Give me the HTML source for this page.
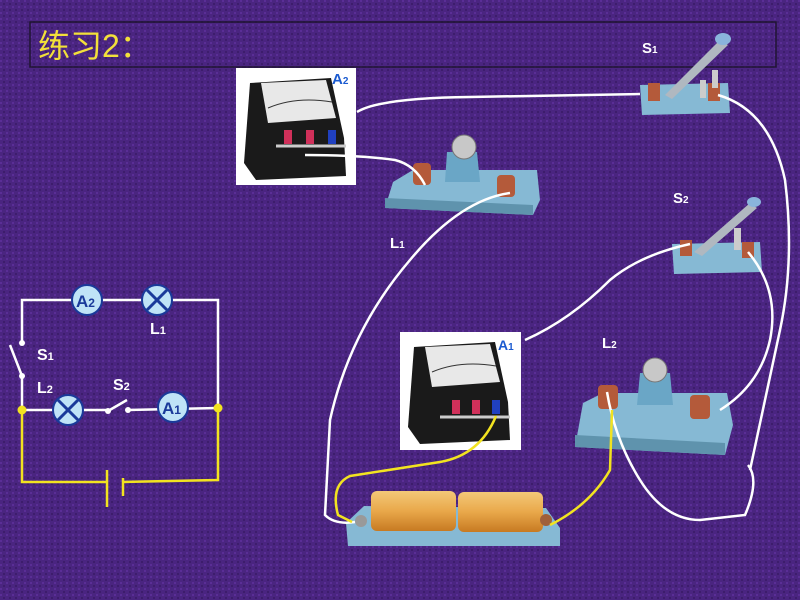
<!DOCTYPE html>
<html><head><meta charset="utf-8"><style>
html,body{margin:0;padding:0;width:800px;height:600px;overflow:hidden;background:#4b2683;}
svg{display:block}
text{font-family:"Liberation Sans",Arial,sans-serif;font-weight:bold}
text.t{font-weight:normal;font-family:"Liberation Sans","Noto Sans CJK SC",sans-serif}
</style></head><body>
<svg width="800" height="600" viewBox="0 0 800 600" xmlns="http://www.w3.org/2000/svg">
<defs>
<pattern id="tex" width="6" height="6" patternUnits="userSpaceOnUse">
<rect width="6" height="6" fill="#4a2580"/>
<rect x="0" y="0" width="2" height="2" fill="#5a2e96"/>
<rect x="3" y="3" width="2" height="2" fill="#3d1d6c"/>
</pattern>
<linearGradient id="bat" x1="0" y1="0" x2="0" y2="1">
<stop offset="0" stop-color="#f3c878"/><stop offset="0.5" stop-color="#e9a84a"/><stop offset="1" stop-color="#c77a22"/>
</linearGradient>
</defs>
<rect width="800" height="600" fill="url(#tex)"/>
<rect x="30" y="22" width="746" height="45" fill="none" stroke="#1e1430" stroke-width="1.5"/>
<text class="t" x="38" y="57" font-size="32" fill="#f2e03a">练习2：</text>

<g stroke="#fff" stroke-width="2.5" fill="none">
<polyline points="22,343 22,300 218,300 218,408"/>
<line x1="22" y1="377" x2="22" y2="410"/>
<line x1="10" y1="345" x2="22" y2="376"/>
<line x1="22" y1="410" x2="108" y2="410"/>
<line x1="108" y1="411" x2="127" y2="400"/>
<line x1="128" y1="410" x2="218" y2="408"/>
</g>
<g fill="#fff"><circle cx="22" cy="343" r="3"/><circle cx="22" cy="376" r="3"/><circle cx="108" cy="411" r="3"/><circle cx="128" cy="410" r="3"/></g>
<g stroke="#f2e320" stroke-width="2.5" fill="none">
<polyline points="22,410 22,482 107,482"/>
<polyline points="123,482 218,480 218,408"/>
<line x1="107" y1="470" x2="107" y2="507"/>
<line x1="123" y1="478" x2="123" y2="496"/>
</g>
<circle cx="22" cy="410" r="4.5" fill="#f2e320"/><circle cx="218" cy="408" r="4.5" fill="#f2e320"/>
<g stroke="#1a3a9a" stroke-width="2" fill="#bfe3f7">
<circle cx="87" cy="300" r="15"/><circle cx="173" cy="407" r="15"/>
<circle cx="157" cy="300" r="15"/><circle cx="68" cy="410" r="15"/>
</g>
<g stroke="#1a3a9a" stroke-width="3">
<line x1="147" y1="290" x2="167" y2="310"/><line x1="167" y1="290" x2="147" y2="310"/>
<line x1="58" y1="400" x2="78" y2="420"/><line x1="78" y1="400" x2="58" y2="420"/>
</g>
<text x="76" y="307" font-size="17" fill="#1a3a9a">A<tspan font-size="12">2</tspan></text>
<text x="162" y="414" font-size="17" fill="#1a3a9a">A<tspan font-size="12">1</tspan></text>
<g fill="#fff" font-size="16">
<text x="150" y="334">L<tspan font-size="11">1</tspan></text>
<text x="37" y="360">S<tspan font-size="11">1</tspan></text>
<text x="37" y="393">L<tspan font-size="11">2</tspan></text>
<text x="113" y="390">S<tspan font-size="11">2</tspan></text>
</g>

<g transform="translate(236,68)">
<rect width="120" height="117" fill="#fff"/>
<path d="M14 15 L95 10 L108 70 L110 108 L20 112 L8 95 Z" fill="#1a1a1a"/>
<path d="M25 15 L90 12 L100 50 L32 55 Z" fill="#e8e8e8"/>
<path d="M32 40 Q60 28 96 34" stroke="#333" fill="none"/>
<rect x="48" y="62" width="8" height="14" fill="#d0305a"/><rect x="70" y="62" width="8" height="14" fill="#d0305a"/><rect x="92" y="62" width="8" height="14" fill="#2040c0"/>
<path d="M40 78 L110 78" stroke="#ccc" stroke-width="3"/>
<text x="96" y="16" font-size="15" fill="#1a5ad0">A<tspan font-size="10">2</tspan></text>
</g>
<g transform="translate(400,332)">
<rect width="121" height="118" fill="#fff"/>
<path d="M14 15 L95 10 L108 70 L110 108 L20 112 L8 95 Z" fill="#1a1a1a"/>
<path d="M25 15 L90 12 L100 50 L32 55 Z" fill="#e8e8e8"/>
<path d="M32 40 Q60 28 96 34" stroke="#333" fill="none"/>
<rect x="52" y="68" width="8" height="14" fill="#d0305a"/><rect x="72" y="68" width="8" height="14" fill="#d0305a"/><rect x="92" y="68" width="8" height="14" fill="#2040c0"/>
<path d="M40 85 L110 85" stroke="#ccc" stroke-width="3"/>
<text x="98" y="18" font-size="14" fill="#1a5ad0">A<tspan font-size="10">1</tspan></text>
</g>

<g transform="translate(385,130)">
<path d="M8 52 L28 40 L152 40 L155 70 L148 85 L0 78 Z" fill="#86b9d4"/>
<path d="M0 68 L148 75 L148 85 L0 78 Z" fill="#5f93ad"/>
<path d="M62 22 L92 22 L95 52 L60 52 Z" fill="#6aa6c6"/>
<circle cx="79" cy="17" r="12" fill="#c8c8c8" stroke="#777"/>
<rect x="28" y="33" width="18" height="22" rx="4" fill="#b45a3a"/>
<rect x="112" y="45" width="18" height="22" rx="4" fill="#b45a3a"/>
</g>
<text x="390" y="248" font-size="15" fill="#fff">L<tspan font-size="10">1</tspan></text>
<g transform="translate(575,355)">
<path d="M8 48 L28 38 L152 38 L158 70 L150 100 L0 92 Z" fill="#86b9d4"/>
<path d="M0 80 L150 88 L150 100 L0 92 Z" fill="#5f93ad"/>
<path d="M65 18 L95 18 L98 50 L62 50 Z" fill="#6aa6c6"/>
<circle cx="80" cy="15" r="12" fill="#c8c8c8" stroke="#777"/>
<rect x="23" y="30" width="20" height="24" rx="4" fill="#b45a3a"/>
<rect x="115" y="40" width="20" height="24" rx="4" fill="#b45a3a"/>
</g>
<text x="602" y="348" font-size="15" fill="#fff">L<tspan font-size="10">2</tspan></text>
<g transform="translate(640,75)">
<path d="M0 10 L88 8 L90 38 L2 40 Z" fill="#86b9d4"/>
<rect x="8" y="8" width="12" height="18" fill="#b45a3a"/><rect x="68" y="8" width="12" height="18" fill="#b45a3a"/>
<path d="M25 20 L80 -35 L88 -30 L32 24 Z" fill="#b0b8c0"/>
<rect x="60" y="5" width="6" height="18" fill="#ccc"/><rect x="72" y="-5" width="6" height="18" fill="#ccc"/>
<ellipse cx="83" cy="-36" rx="8" ry="6" fill="#8ab4dc"/>
</g>
<text x="642" y="53" font-size="15" fill="#fff">S<tspan font-size="10">1</tspan></text>
<g transform="translate(672,238)">
<path d="M0 6 L88 4 L90 34 L2 36 Z" fill="#86b9d4"/>
<rect x="8" y="2" width="12" height="16" fill="#b45a3a"/><rect x="70" y="4" width="12" height="16" fill="#b45a3a"/>
<path d="M22 14 L78 -35 L85 -30 L30 18 Z" fill="#b0b8c0"/>
<rect x="62" y="-10" width="7" height="22" fill="#ccc"/>
<ellipse cx="82" cy="-36" rx="7" ry="5" fill="#8ab4dc"/>
</g>
<text x="673" y="203" font-size="15" fill="#fff">S<tspan font-size="10">2</tspan></text>
<g transform="translate(346,488)">
<path d="M0 35 L18 18 L200 20 L214 40 L214 58 L2 58 Z" fill="#86b9d4"/>
<rect x="25" y="3" width="85" height="40" rx="6" fill="url(#bat)"/>
<rect x="112" y="4" width="85" height="40" rx="6" fill="url(#bat)"/>
<circle cx="15" cy="33" r="6" fill="#999"/><circle cx="200" cy="32" r="6" fill="#a0603a"/>
</g>

<g stroke="#fff" stroke-width="2.5" fill="none">
<path d="M357 112 Q380 98 470 97 L640 94"/>
<path d="M305 155 Q360 155 395 160 Q415 165 425 185"/>
<path d="M510 193 Q460 200 410 260 Q350 330 330 420 L325 515 Q335 525 355 522"/>
<path d="M718 95 Q770 110 785 180 Q795 260 780 330 Q765 400 750 470"/>
<path d="M690 244 Q640 255 610 280 Q570 320 525 340"/>
<path d="M748 252 Q780 290 770 340 Q760 385 720 410"/>
<path d="M607 392 Q615 440 640 480 Q665 520 700 520 L745 515 Q760 480 748 465"/>
</g>
<g stroke="#f2e320" stroke-width="2.5" fill="none">
<path d="M496 416 Q480 455 440 462 L350 476 Q330 485 338 515 L352 522"/>
<path d="M612 410 L610 470 Q590 505 550 525"/>
</g>
</svg>
</body></html>
